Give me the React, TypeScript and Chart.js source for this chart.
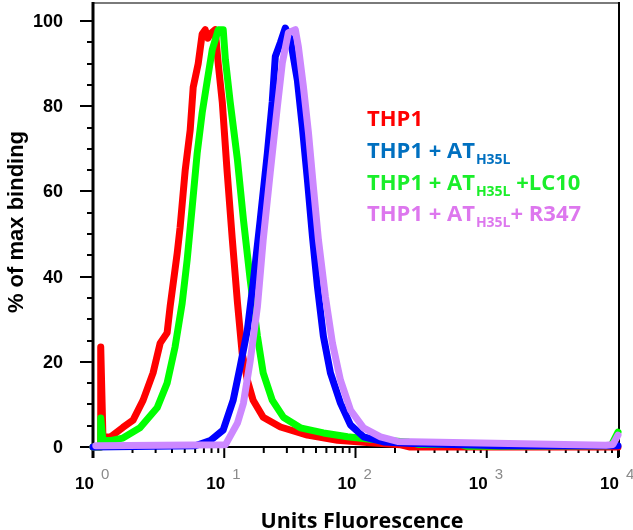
import React, { useEffect, useRef } from 'react';
import { Chart, registerables } from 'chart.js';

Chart.register(...registerables);

// ---- data ----
const redX = [1.0, 1.14, 1.145, 1.19, 1.35, 1.69, 2.02, 2.41, 2.87, 3.25, 3.67, 3.87, 4.38, 4.61, 5.04, 5.5, 5.8, 6.33, 6.79, 7.16, 7.5, 7.82, 8.53, 9.0, 9.66, 10.5, 11.5, 12.6, 13.7, 15.0, 16.6, 19.8, 26.8, 43.0, 72.9, 130, 221, 260, 10000];
const redY = [0, 0, 23.5, 2.5, 2.3, 4.6, 6.3, 11, 17.4, 24.4, 26.8, 33, 45.5, 51.6, 65, 74.4, 84.5, 90, 97, 98, 96, 97, 98, 90, 81, 65, 49, 34, 22, 15.7, 11, 7, 4.7, 2.8, 1.6, 1, 0.5, 0, 0];

const greenX = [1.0, 1.14, 1.145, 1.19, 1.35, 1.69, 2.28, 3.08, 3.67, 4.22, 4.78, 5.22, 5.7, 6.22, 6.79, 7.42, 8.1, 9.0, 9.82, 10.2, 11.1, 12.6, 14.0, 15.8, 17.9, 19.8, 23.2, 28.2, 38.0, 57.0, 86.9, 130, 249, 300, 634, 700, 8850, 10000];
const greenY = [0, 0, 6.8, 1.5, 1.5, 2.1, 4.5, 9.2, 15, 23.5, 33.8, 44, 56.4, 69, 78.5, 86, 93.3, 98, 98, 91, 81, 67.5, 53.4, 39, 26, 17.4, 11, 7, 4.5, 3.3, 2.4, 1.8, 1.2, 0.6, 0.6, 0.2, 0.3, 3.5];

const blueX = [1.0, 6.01, 7.82, 9.82, 11.7, 13.2, 15.0, 16.6, 18.8, 21.3, 23.2, 24.5, 26.8, 29.2, 31.9, 36.1, 39.4, 43.0, 47.0, 51.3, 57.0, 64.4, 76.8, 91.5, 115, 164, 272, 1270, 10000];
const blueY = [0, 0.3, 1.5, 4, 11, 18.8, 27.5, 38.5, 53.4, 69, 81, 91.7, 95, 98.4, 95.7, 86, 75, 62.8, 49.4, 37.6, 25.9, 17.4, 10.3, 5.2, 2.4, 1.2, 0.8, 0.3, 0.3];

const violetX = [1.05, 10.2, 12.6, 14.0, 15.8, 17.9, 19.8, 22.4, 25.4, 27.7, 30.8, 34.8, 36.7, 40.1, 43.8, 47.8, 52.2, 59.0, 66.7, 76.8, 91.5, 115, 155, 209, 8100, 9160, 10000];
const violetY = [0.3, 0.5, 5.6, 10.3, 20.4, 33, 48.6, 64.4, 80, 90.2, 97.3, 98, 94, 84.6, 73.8, 61, 48.6, 35.3, 24.4, 15.7, 8.7, 4.5, 2.4, 1.3, 0.4, 0.6, 2.8];

const seriesNames = ['THP1 + AT H35L + R347', 'THP1 + AT H35L', 'THP1 + AT H35L +LC10', 'THP1'];
const seriesColors = ['#cc88ff', '#0000ff', '#00ff00', '#ff0000'];

const yMajorTicks = [0, 20, 40, 60, 80, 100];
const yMinorTicks = [5, 10, 15, 25, 30, 35, 45, 50, 55, 65, 70, 75, 85, 90, 95];
const xDecadeExponents = ['0', '1', '2', '3', '4'];
const xMinorMultipliers = [2, 3, 4, 5, 6, 7, 8, 9];

const legendMain = ['THP1', 'THP1 + AT', 'THP1 + AT', 'THP1 + AT'];
const legendSub = ['', 'H35L', 'H35L', 'H35L'];
const legendTail = ['', '', ' +LC10', '+ R347'];
const legendColors = ['#ff0000', '#0070c0', '#1aee2a', '#dd77ee'];

const xTitle = 'Units Fluorescence';
const yTitle = '% of max binding';

function toPoints(xs: number[], ys: number[]) {
  return xs.map((x, i) => ({ x, y: ys[i] }));
}

const decoPlugin = {
  id: 'deco',
  beforeDatasetsDraw(chart: any) {
    const { ctx, chartArea: a, scales } = chart;
    const x = scales.x;
    const y = scales.y;
    const y0 = y.getPixelForValue(0);
    ctx.save();
    ctx.lineCap = 'butt';
    // top frame (grey)
    ctx.strokeStyle = '#7a7a7a';
    ctx.lineWidth = 2;
    ctx.beginPath();
    ctx.moveTo(a.left, a.top + 1);
    ctx.lineTo(a.right + 2, a.top + 1);
    ctx.stroke();
    ctx.strokeStyle = '#000';
    // right frame
    ctx.lineWidth = 2;
    ctx.beginPath();
    ctx.moveTo(a.right + 1, a.top);
    ctx.lineTo(a.right + 1, y0 + 10);
    ctx.stroke();
    // left axis
    ctx.lineWidth = 3;
    ctx.beginPath();
    ctx.moveTo(a.left, a.top);
    ctx.lineTo(a.left, y0 + 11);
    ctx.stroke();
    // bottom axis
    ctx.lineWidth = 2;
    ctx.beginPath();
    ctx.moveTo(a.left, y0);
    ctx.lineTo(a.right + 1, y0);
    ctx.stroke();
    // y ticks
    ctx.lineWidth = 2;
    yMajorTicks.forEach((v) => {
      const p = Math.round(y.getPixelForValue(v));
      ctx.beginPath();
      ctx.moveTo(a.left - 13, p);
      ctx.lineTo(a.left, p);
      ctx.stroke();
    });
    yMinorTicks.forEach((v) => {
      const p = Math.round(y.getPixelForValue(v));
      ctx.beginPath();
      ctx.moveTo(a.left - 6, p);
      ctx.lineTo(a.left, p);
      ctx.stroke();
    });
    // x ticks
    xDecadeExponents.forEach((e, i) => {
      const base = Math.pow(10, i);
      const p = x.getPixelForValue(base);
      ctx.beginPath();
      ctx.moveTo(p, y0);
      ctx.lineTo(p, y0 + 11);
      ctx.stroke();
      if (i < xDecadeExponents.length - 1) {
        xMinorMultipliers.forEach((m) => {
          const q = x.getPixelForValue(m * base);
          ctx.beginPath();
          ctx.moveTo(q, y0);
          ctx.lineTo(q, y0 + 6);
          ctx.stroke();
        });
      }
    });
    // y tick labels
    ctx.fillStyle = '#000';
    ctx.font = "bold 18px 'Liberation Sans', Arial, sans-serif";
    ctx.textAlign = 'right';
    ctx.textBaseline = 'middle';
    yMajorTicks.forEach((v) => {
      ctx.fillText(String(v), 63, y.getPixelForValue(v) + 1);
    });
    // x tick labels 10^n
    ctx.textBaseline = 'alphabetic';
    xDecadeExponents.forEach((e, i) => {
      const p = x.getPixelForValue(Math.pow(10, i));
      ctx.fillStyle = '#000';
      ctx.font = "bold 17px 'Liberation Sans', Arial, sans-serif";
      ctx.textAlign = 'right';
      ctx.fillText('10', p + 1, 489);
      ctx.fillStyle = '#8a8a8a';
      ctx.font = "15px 'Liberation Sans', Arial, sans-serif";
      ctx.textAlign = 'left';
      ctx.fillText(e, p + 8, 479);
    });
    // axis titles
    ctx.fillStyle = '#000';
    ctx.font = "bold 21.5px 'Open Sans', sans-serif";
    ctx.textAlign = 'center';
    ctx.fillText(xTitle, 362, 528);
    ctx.save();
    ctx.translate(23, 222);
    ctx.rotate(-Math.PI / 2);
    ctx.font = "bold 22px 'Liberation Sans', Arial, sans-serif";
    ctx.fillText(yTitle, 0, 0);
    ctx.restore();
    ctx.restore();
  },
  afterDatasetsDraw(chart: any) {
    const { ctx } = chart;
    ctx.save();
    ctx.textAlign = 'left';
    ctx.textBaseline = 'alphabetic';
    const baselines = [126, 158, 190, 221];
    legendMain.forEach((t, i) => {
      let cx = 367;
      const by = baselines[i];
      ctx.fillStyle = legendColors[i];
      ctx.font = "bold 22px 'Open Sans', sans-serif";
      ctx.fillText(t, cx, by);
      cx += ctx.measureText(t).width;
      if (legendSub[i]) {
        ctx.font = "bold 14px 'Open Sans', sans-serif";
        ctx.fillText(legendSub[i], cx + 1, by + 6);
        cx += ctx.measureText(legendSub[i]).width + 1;
      }
      if (legendTail[i]) {
        ctx.font = "bold 22px 'Open Sans', sans-serif";
        ctx.fillText(legendTail[i], cx, by);
      }
    });
    ctx.restore();
  },
};

export default function App() {
  const ref = useRef<HTMLCanvasElement | null>(null);
  useEffect(() => {
    document.body.style.margin = '0';
    const canvas = ref.current;
    if (!canvas) return;
    const datasets = [
      { xs: violetX, ys: violetY },
      { xs: blueX, ys: blueY },
      { xs: greenX, ys: greenY },
      { xs: redX, ys: redY },
    ].map((s, i) => ({
      label: seriesNames[i],
      data: toPoints(s.xs, s.ys),
      borderColor: seriesColors[i],
      backgroundColor: seriesColors[i],
      borderWidth: 7,
      pointRadius: 0,
      showLine: true,
      tension: 0,
      fill: false,
      clip: false as any,
      borderJoinStyle: 'round' as const,
      borderCapStyle: 'round' as const,
    }));
    const chart = new Chart(canvas, {
      type: 'scatter',
      data: { datasets },
      options: {
        animation: false,
        responsive: false,
        devicePixelRatio: 1,
        layout: { padding: { left: 93, right: 15, top: 2, bottom: 83 } },
        plugins: { legend: { display: false }, tooltip: { enabled: false } },
        scales: {
          x: { type: 'logarithmic', min: 1, max: 10000, display: false },
          y: { type: 'linear', min: 0, max: 104.5, display: false },
        },
      },
      plugins: [decoPlugin],
    });
    return () => chart.destroy();
  }, []);
  return <canvas ref={ref} width={633} height={530} style={{ display: 'block', width: 633, height: 530 }} />;
}
